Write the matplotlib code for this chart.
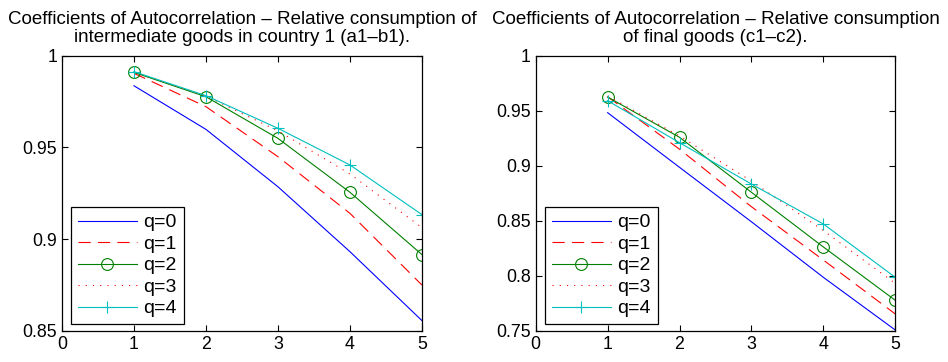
import numpy as np
import matplotlib
matplotlib.use("Agg")
import matplotlib.pyplot as plt

plt.rcParams['font.family'] = ['Liberation Sans', 'DejaVu Sans']

lags = [1, 2, 3, 4, 5]
labels = ["q=0", "q=1", "q=2", "q=3", "q=4"]

# intermediate goods, country 1 (a1-b1)
inter_q0 = [0.9836, 0.9598, 0.9285, 0.8931, 0.8555]
inter_q1 = [0.9904, 0.9722, 0.9449, 0.9140, 0.8749]
inter_q2 = [0.9909, 0.9776, 0.9549, 0.9255, 0.8915]
inter_q3 = [0.9910, 0.9780, 0.9590, 0.9355, 0.9062]
inter_q4 = [0.9913, 0.9782, 0.9604, 0.9404, 0.9133]

# final goods (c1-c2)
final_q0 = [0.9482, 0.8985, 0.8490, 0.7985, 0.7506]
final_q1 = [0.9627, 0.9150, 0.8627, 0.8142, 0.7652]
final_q2 = [0.9624, 0.9258, 0.8758, 0.8261, 0.7776]
final_q3 = [0.9633, 0.9270, 0.8860, 0.8410, 0.7930]
final_q4 = [0.9591, 0.9209, 0.8833, 0.8470, 0.7985]

titles = ["Coefficients of Autocorrelation \u2013 Relative consumption of\nintermediate goods in country 1 (a1\u2013b1).",
          "Coefficients of Autocorrelation \u2013 Relative consumption\nof final goods (c1\u2013c2)."]
yticks_l = [0.85, 0.9, 0.95, 1]
ytl_l = ["0.85", "0.9", "0.95", "1"]
yticks_r = [0.75, 0.8, 0.85, 0.9, 0.95, 1]
ytl_r = ["0.75", "0.8", "0.85", "0.9", "0.95", "1"]

styles = [dict(color=(0, 0, 1), ls='-'),
          dict(color=(1, 0, 0), ls=(0, (11, 6.5))),
          dict(color=(0, 0.5, 0), ls='-', marker='o', mfc='none', ms=8.5, mew=0.8),
          dict(color=(1, 0, 0), ls=(0, (1, 5.5))),
          dict(color=(0, 0.75, 0.75), ls='-', marker='+', ms=8, mew=0.8)]

fig = plt.figure(figsize=(9.48, 3.62), dpi=100)
ax1 = fig.add_axes([0.0654, 0.0865, 0.3797, 0.7596])
ax2 = fig.add_axes([0.5651, 0.0865, 0.3793, 0.7596])

panels = [(ax1, [inter_q0, inter_q1, inter_q2, inter_q3, inter_q4], (0.85, 1), yticks_l, ytl_l),
          (ax2, [final_q0, final_q1, final_q2, final_q3, final_q4], (0.75, 1), yticks_r, ytl_r)]

for i, (ax, series, ylim, yt, ytl) in enumerate(panels):
    for s, lab, st in zip(series, labels, styles):
        ax.plot(lags, s, lw=0.8, label=lab, **st)
    ax.set_xlim(0, 5)
    ax.set_ylim(*ylim)
    ax.set_xticks([0, 1, 2, 3, 4, 5])
    ax.set_yticks(yt)
    ax.set_yticklabels(ytl)
    ax.tick_params(direction='in', top=True, right=True, labelsize=12.8, length=4, width=0.8)
    for sp in ax.spines.values():
        sp.set_linewidth(0.9)
    ax.set_title(titles[i], fontsize=13.5, pad=10, linespacing=1.05)
    leg = ax.legend(loc='lower left', bbox_to_anchor=(0.025, 0.0233), borderaxespad=0,
                    fontsize=14, fancybox=False, edgecolor='black', framealpha=1,
                    handlelength=3.05, handletextpad=0.33, labelspacing=0.2, borderpad=0.35)
    leg.get_frame().set_linewidth(0.9)

fig.savefig("out.png", dpi=100)
